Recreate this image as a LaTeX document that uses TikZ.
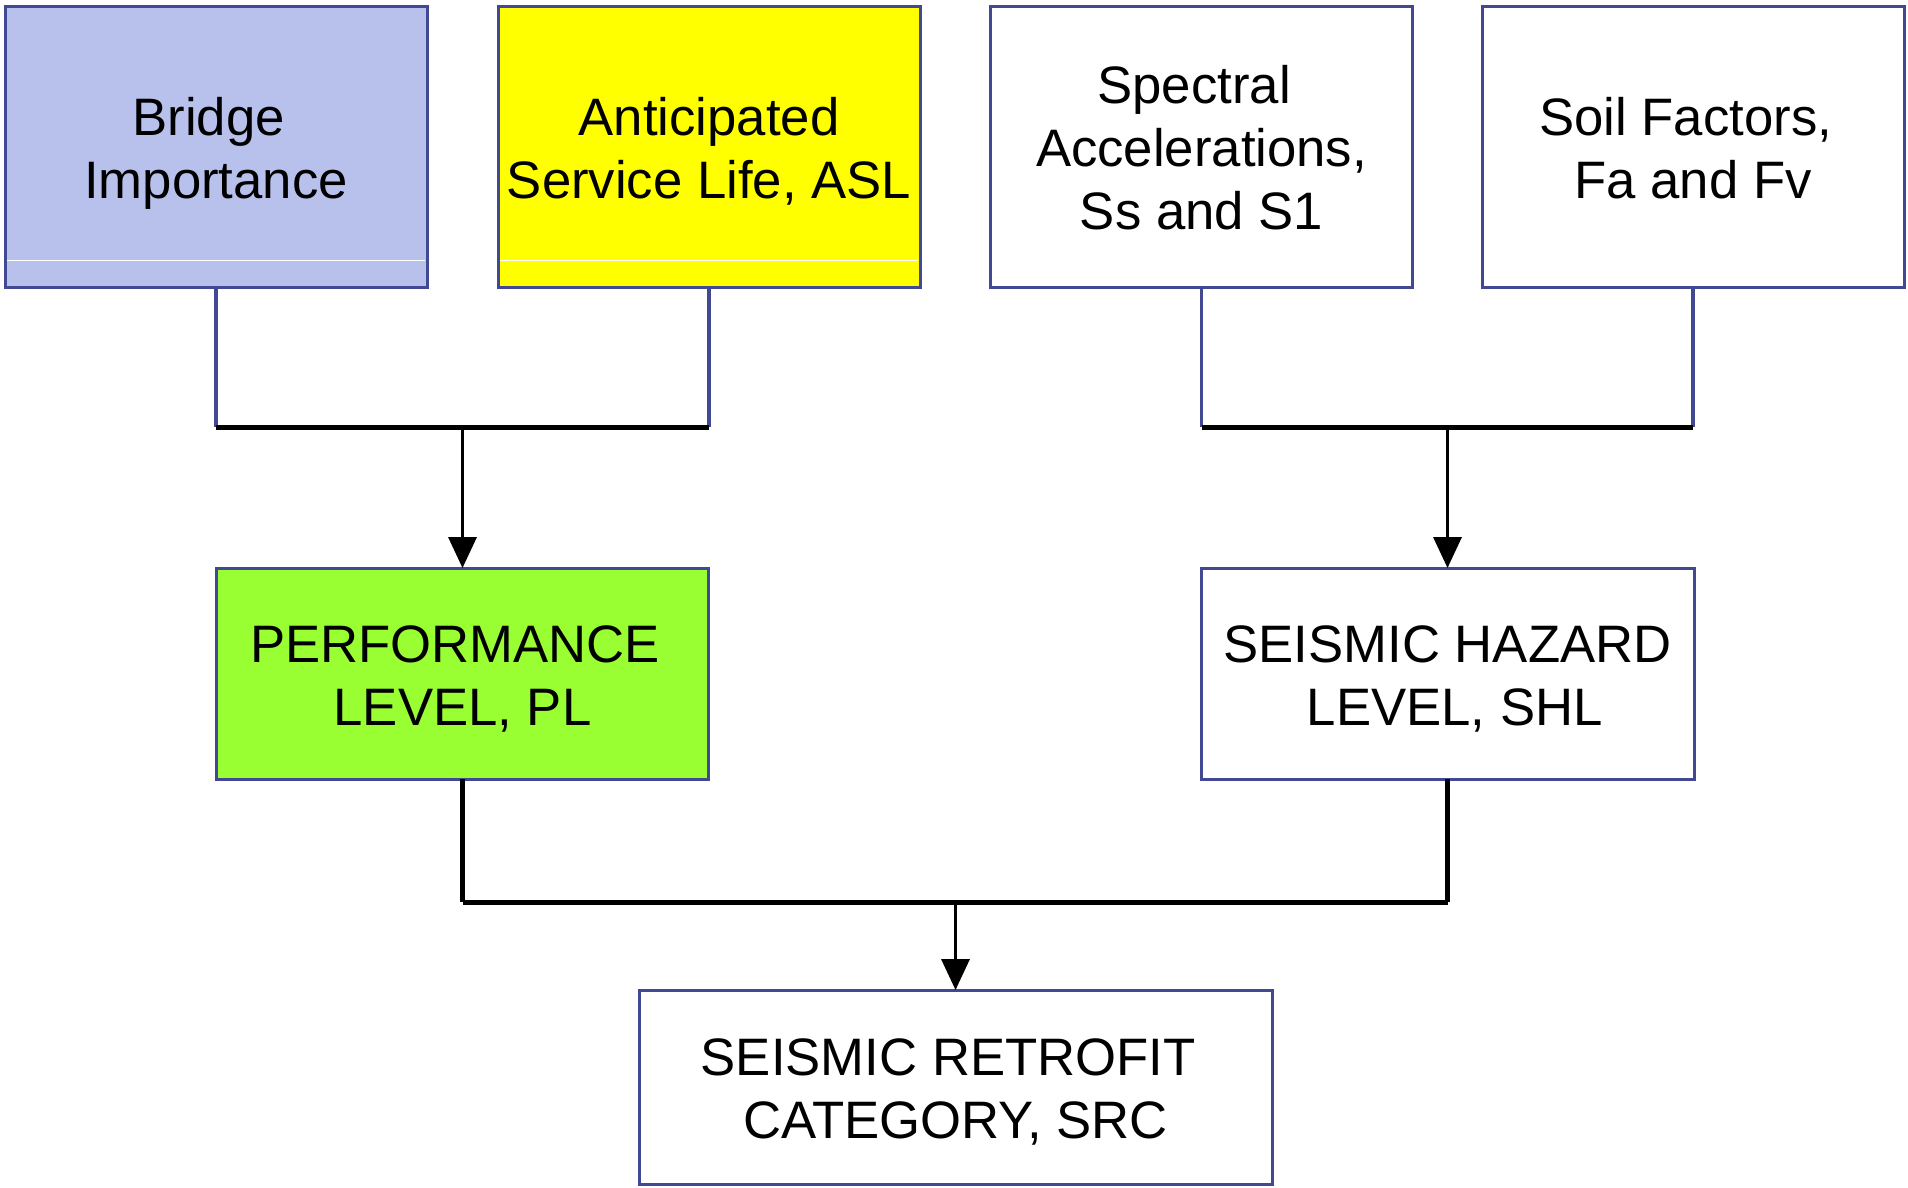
\documentclass[tikz,border=0pt]{standalone}
\usepackage{fontspec}
\setmainfont{Liberation Sans}
\usetikzlibrary{arrows.meta}

\definecolor{edgeblue}{RGB}{66,72,146}
\definecolor{impfill}{RGB}{184,193,236}
\definecolor{aslfill}{RGB}{255,255,0}
\definecolor{plfill}{RGB}{153,255,51}

% uniform line strut: every line gets the same height and depth
\newcommand\boxstrut{\rule[-11.4pt]{0pt}{63pt}}
% a word space that survives at the ends of lines
\newcommand\wsp{\hspace*{0.278em}}

\tikzset{
  box/.style={draw=edgeblue, line width=3pt, rectangle, inner sep=0pt, outer sep=0pt,
              align=center, font=\fontsize{52.7}{63}\selectfont, text=black},
  topbox/.style={box, minimum width=422pt, minimum height=281pt},
  midbox/.style={box, minimum width=492pt, minimum height=211pt},
  feed/.style={draw=edgeblue, line width=3.3pt},
  bus/.style={draw=black, line width=5pt},
  flow/.style={draw=black, line width=3.5pt, -{Triangle[width=28pt 0,length=31pt 0]}},
  sheen/.style={draw=white, line width=0.8pt}
}

\begin{document}
\begin{tikzpicture}[x=1pt,y=-1pt]
  \useasboundingbox (0,0) rectangle (1908,1187);

  % input boxes
  \node[topbox, fill=impfill] (imp) at (216,146.5)
    {\boxstrut Bridge\wsp\\\boxstrut Importance};
  \node[topbox, fill=aslfill] (asl) at (709,146.5)
    {\boxstrut Anticipated\\\boxstrut Service Life, ASL};
  \node[topbox, fill=white] (spec) at (1201.5,146.5)
    {\boxstrut Spectral\wsp\\\boxstrut Accelerations,\wsp\\\boxstrut Ss and S1};
  \node[topbox, fill=white] (soil) at (1693,146.5)
    {\boxstrut Soil Factors,\wsp\\\boxstrut Fa and Fv};

  % thin highlight lines inside the coloured boxes
  \draw[sheen] ([shift={(2,-27)}]imp.south west) -- ([shift={(-2,-27)}]imp.south east);
  \draw[sheen] ([shift={(2,-27)}]asl.south west) -- ([shift={(-2,-27)}]asl.south east);

  % intermediate levels
  \node[midbox, fill=plfill] (pl) at (462.5,673.5)
    {\boxstrut PERFORMANCE\wsp\\\boxstrut LEVEL, PL};
  \node[midbox, fill=white, minimum width=493pt] (shl) at (1447.5,673.5)
    {\boxstrut SEISMIC HAZARD\\\boxstrut\wsp LEVEL, SHL};

  % final category
  \node[box, fill=white, minimum width=633pt, minimum height=194pt] (src) at (955.5,1087)
    {\boxstrut SEISMIC RETROFIT\wsp\\\boxstrut CATEGORY, SRC};

  % bus heights
  \coordinate (busA) at (0,427);
  \coordinate (busB) at (0,902);

  % performance branch
  \draw[feed] (imp.south) -- (imp.south |- busA);
  \draw[feed] (asl.south) -- (asl.south |- busA);
  \draw[bus] (imp.south |- busA) -- (asl.south |- busA);
  \draw[flow] (pl.north |- busA) -- (pl.north);

  % hazard branch
  \draw[feed] (spec.south) -- (spec.south |- busA);
  \draw[feed] (soil.south) -- (soil.south |- busA);
  \draw[bus] (spec.south |- busA) -- (soil.south |- busA);
  \draw[flow] (shl.north |- busA) -- (shl.north);

  % combination into the retrofit category
  \draw[bus] (pl.south) -- (pl.south |- busB);
  \draw[bus] (shl.south) -- (shl.south |- busB);
  \draw[bus] (pl.south |- busB) -- (shl.south |- busB);
  \draw[flow] (src.north |- busB) -- (src.north);
\end{tikzpicture}
\end{document}
